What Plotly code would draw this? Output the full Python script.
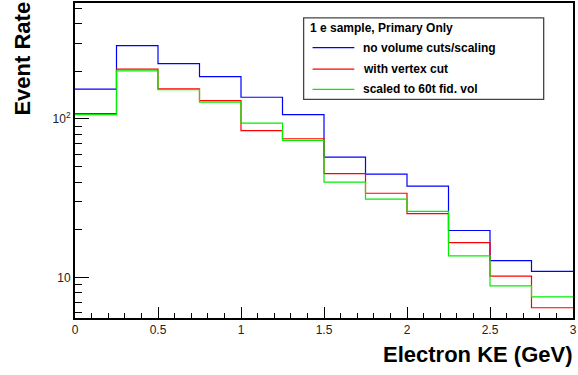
import plotly.graph_objects as go

# ---- data ----
bin_edges = [0.0, 0.25, 0.5, 0.75, 1.0, 1.25, 1.5, 1.75, 2.0, 2.25, 2.5, 2.75, 3.0]
no_cuts = [154, 290, 223, 185, 137, 106.6, 57.5, 44.9, 37.7, 19.8, 12.8, 10.95]
vertex_cut = [108, 206, 155, 130.4, 84.3, 75, 45.2, 34.0, 25.3, 16.6, 10.2, 6.45]
scaled_60t = [106.6, 201, 153, 127.8, 94.2, 73.2, 40, 31.2, 26.1, 13.7, 8.86, 7.55]

series_names = ["no volume cuts/scaling", "with vertex cut", "scaled to 60t fid. vol"]
series_values = [no_cuts, vertex_cut, scaled_60t]
series_colors = ["#0000ff", "#ff0000", "#00ee00"]
legend_header = "1 e sample, Primary Only"

x_title = "Electron KE (GeV)"
y_title = "Event Rate"
y_tickvals = [10, 100]
y_ticktext = ["10", "10<sup>2</sup>"]
y_minor_vals = [6, 7, 8, 9, 20, 30, 40, 50, 60, 70, 80, 90, 200, 300, 400, 500]

FONT = "Liberation Sans, Arial, Helvetica, sans-serif"

W, H = 578, 375
ML, MR, MT, MB = 75, 2, 1, 57
PW = W - ML - MR
PH = H - MT - MB


def px(x):
    return (x - ML) / PW


def py(y):
    return (H - MB - y) / PH


fig = go.Figure()
for name, vals, col in zip(series_names, series_values, series_colors):
    fig.add_trace(go.Scatter(
        x=bin_edges, y=list(vals) + [vals[-1]],
        mode="lines", line=dict(color=col, width=1.2, shape="hv"),
        name=name, showlegend=False, hoverinfo="skip"))

shapes = []
annotations = []

# legend box
shapes.append(dict(type="rect", xref="paper", yref="paper",
                   x0=px(305), x1=px(546.5), y0=py(98), y1=py(16),
                   line=dict(color="#444444", width=1.3), fillcolor="white", layer="above"))
annotations.append(dict(text="<b>" + legend_header + "</b>", xref="paper", yref="paper",
                        x=px(309), y=py(26), xanchor="left", yanchor="middle",
                        showarrow=False, font=dict(family=FONT, size=12, color="black")))
rows = [46, 67.5, 88]
for ry, name, col in zip(rows, series_names, series_colors):
    shapes.append(dict(type="line", xref="paper", yref="paper",
                       x0=px(314), x1=px(356), y0=py(ry), y1=py(ry),
                       line=dict(color=col, width=1.2), layer="above"))
    annotations.append(dict(text="<b>" + name + "</b>", xref="paper", yref="paper",
                            x=px(363), y=py(ry), xanchor="left", yanchor="middle",
                            showarrow=False, font=dict(family=FONT, size=12, color="black")))

# axis titles
annotations.append(dict(text="<b>" + x_title + "</b>", xref="paper", yref="paper",
                        x=px(577), y=py(355), xanchor="right", yanchor="middle",
                        showarrow=False, font=dict(family=FONT, size=22, color="black")))
annotations.append(dict(text="<b>" + y_title + "</b>", xref="paper", yref="paper",
                        x=px(22), y=py(116), xanchor="center", yanchor="bottom",
                        textangle=-90, showarrow=False,
                        font=dict(family=FONT, size=22, color="black")))

fig.update_layout(
    width=W, height=H,
    margin=dict(l=ML, r=MR, t=MT, b=MB),
    paper_bgcolor="white", plot_bgcolor="white",
    font=dict(family=FONT, size=12, color="#222222"),
    shapes=shapes, annotations=annotations,
    xaxis=dict(range=[0, 3], tickmode="linear", tick0=0, dtick=0.5,
               ticks="inside", ticklen=11, tickwidth=1, tickcolor="black",
               showline=True, linecolor="black", linewidth=2, mirror=True,
               showgrid=False, zeroline=False, ticklabeloverflow="allow",
               tickfont=dict(family=FONT, size=12, color="#222222"),
               minor=dict(ticks="inside", ticklen=5, tickcolor="black", tickwidth=1,
                          dtick=0.1, tick0=0, showgrid=False)),
    yaxis=dict(type="log", range=[0.745, 2.731],
               tickmode="array", tickvals=y_tickvals, ticktext=y_ticktext,
               ticks="inside", ticklen=14, tickwidth=1, tickcolor="black",
               showline=True, linecolor="black", linewidth=2, mirror=True,
               showgrid=False, zeroline=False,
               tickfont=dict(family=FONT, size=12, color="#222222"),
               minor=dict(ticks="inside", ticklen=7, tickcolor="black", tickwidth=1,
                          tickmode="array", tickvals=y_minor_vals, showgrid=False)),
)

fig.write_html("out.html")
